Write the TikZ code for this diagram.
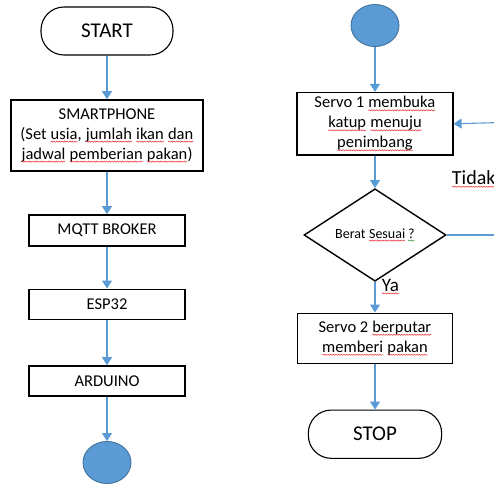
\documentclass[tikz,border=0pt]{standalone}
\usepackage{fontspec}
\setmainfont{Carlito}
\usetikzlibrary{arrows.meta,shapes.geometric,decorations.pathmorphing}
\definecolor{flow}{HTML}{5B9BD5}
\definecolor{flowdark}{HTML}{41719C}
\definecolor{squigred}{HTML}{E8303A}
\definecolor{squiggreen}{HTML}{3A9A3A}
\newcommand\sqc[2]{\tikz[baseline=(w.base)]{\node[draw=none,fill=none,shape=rectangle,rounded corners=0pt,inner sep=0pt,outer sep=0pt,minimum width=0pt,minimum height=0pt,text width=,align=left](w){#2};\draw[#1,line width=0.5pt,rounded corners=0pt,decorate,decoration={snake,amplitude=0.6pt,segment length=2.6pt}]([yshift=-2.4pt]w.base west)--([yshift=-2.4pt]w.base east);}}
\newcommand\sq[1]{\sqc{squigred}{#1}}
\tikzset{
  box/.style={draw=black,line width=1.6pt,rectangle,align=center,inner sep=0pt,font=\fontsize{16.5}{20}\selectfont},
  term/.style={draw=black,line width=1.1pt,rectangle,rounded corners=23pt,inner sep=0pt,font=\fontsize{21}{24}\selectfont},
  conn/.style={draw=flowdark,fill=flow,line width=0.9pt,ellipse,inner sep=0pt,minimum width=48pt,minimum height=42pt},
  dec/.style={draw=black,line width=1.4pt,diamond,inner sep=0pt,minimum width=142pt,minimum height=68pt,font=\fontsize{14}{16}\selectfont},
  flowline/.style={draw=flow,line width=1.1pt},
  flowarrow/.style={flowline,-{Triangle[length=8pt,width=10pt]}},
  lbl/.style={inner sep=0pt}
}
\begin{document}
\begin{tikzpicture}[x=1pt,y=-1pt]
\useasboundingbox (0,0) rectangle (494,484);
% left column
\node[term,minimum width=132pt,minimum height=48pt] (start) at (107,31) {START};
\node[box,minimum width=192pt,minimum height=71pt] (phone) at (107,135.5) {SMARTPHONE\\(Set \sq{usia}, \sq{jumlah} \sq{ikan} \sq{dan}\\\sq{jadwal} \sq{pemberian} \sq{pakan})};
\node[box,minimum width=155.5pt,minimum height=31pt] (mqtt) at (107,230.5) {MQTT BROKER};
\node[box,minimum width=156pt,minimum height=30pt] (esp) at (107,304.3) {ESP32};
\node[box,minimum width=155.5pt,minimum height=30pt] (ard) at (107,381) {ARDUINO};
\node[conn] (c1) at (107,462.5) {};
\draw[flowarrow] (start) -- (phone);
\draw[flowarrow] (phone) -- (mqtt);
\draw[flowarrow] (mqtt) -- (esp);
\draw[flowarrow] (esp) -- (ard);
\draw[flowarrow] (ard) -- (c1);
% right column
\node[conn] (c2) at (375,25.5) {};
\node[box,minimum width=155.6pt,minimum height=62.3pt] (s1) at (375,123.8) {Servo 1 \sq{membuka}\\\sq{katup} \sq{menuju}\\\sq{penimbang}};
\node[dec] (d) at (375,235) {Berat \sq{Sesuai}\,\sqc{squiggreen}{?}};
\node[box,minimum width=155pt,minimum height=50pt] (s2) at (375,338.3) {Servo 2 \sq{berputar}\\\sq{memberi} \sq{pakan}};
\node[term,minimum width=133.3pt,minimum height=48.3pt] (stop) at (375,434.2) {STOP};
\coordinate (rtop) at (494,122.7);
\coordinate (rbot) at (494,235);
\draw[flowarrow] (c2) -- (s1);
\draw[flowarrow] (s1) -- (d);
\draw[flowarrow] (d) -- (s2);
\draw[flowarrow] (s2) -- (stop);
\draw[flowarrow] (rtop) -- (s1.east);
\draw[flowline] (d.east) -- (rbot);
\node[lbl,anchor=base west,font=\fontsize{20}{22}\selectfont] (tidak) at (451.5,184.3) {\sq{Tidak}};
\node[lbl,anchor=base west,font=\fontsize{19}{22}\selectfont] (ya) at (381.5,291) {\sq{Ya}};
\end{tikzpicture}
\end{document}
